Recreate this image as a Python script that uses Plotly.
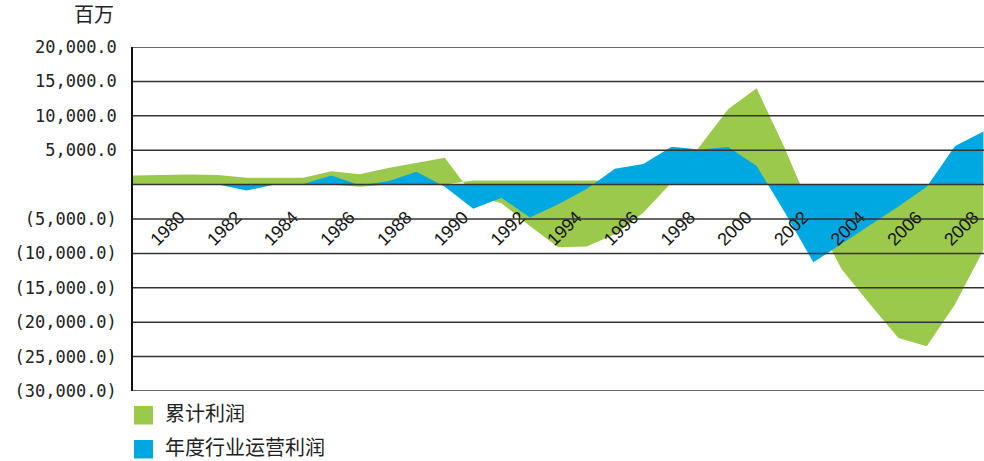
import plotly.graph_objects as go

years = list(range(1978, 2009))
# 年度行业运营利润 (blue)
annual = [0, 0, 0, 0, -850, 0, 100, 1340, -100, 500, 1860, -300, -3500, -1900,
          -4800, -2850, -630, 2300, 3000, 5500, 5100, 5450, 2700, -4100, -11300,
          -8600, -5900, -3200, -300, 5600, 7700]
# 累计利润 (green) outer edge
cumulative = [1340, 1450, 1480, 1400, 1000, 1000, 1000, 1950, 1500, 2400, 3100, 3900,
              -1600, -2700, -6000, -9100, -9000, -7200, -4100, 300, 5600, 11000, 14000,
              5200, -4500, -12300, -17400, -22300, -23500, -17400, -9500]
# baseline of the green band as drawn
green_base = [0, 0, 0, 0, 0, 0, 0, 0, -300, 0, 0, 0, 600, 600, 600, 600, 600, 600, 600,
              0, 0, 0, 0, 0, 0, 0, 0, 0, 0, 0, 0]

ytick_vals = [20000, 15000, 10000, 5000, 0, -5000, -10000, -15000, -20000, -25000, -30000]
ytick_text = ["20,000.0", "15,000.0", "10,000.0", "5,000.0", "", "(5,000.0)", "(10,000.0)",
              "(15,000.0)", "(20,000.0)", "(25,000.0)", "(30,000.0)"]
xtick_vals = list(range(1980, 2009, 2))
legend_names = ["累计利润", "年度行业运营利润"]

GREEN = "#9BC94B"
BLUE = "#00A8E1"
legend_colors = [GREEN, BLUE]

W_PLOT = 984 - 133
H_PAPER = 461 - 47
DOM0 = 70 / H_PAPER
ZERO_POS = DOM0 + 0.6 * (1 - DOM0)


def px_x(p):
    return (p - 133) / W_PLOT


def px_y(p):
    return (461 - p) / H_PAPER


fig = go.Figure()
fig.add_trace(go.Scatter(x=years, y=green_base, mode="lines", line=dict(width=0, color=GREEN),
                         showlegend=False, hoverinfo="skip"))
fig.add_trace(go.Scatter(x=years, y=cumulative, mode="lines", fill="tonexty", fillcolor=GREEN,
                         line=dict(width=0, color=GREEN), name=legend_names[0]))
fig.add_trace(go.Scatter(x=years, y=annual, mode="lines", fill="tozeroy", fillcolor=BLUE,
                         line=dict(width=0, color=BLUE), name=legend_names[1]))

shapes = []
for v in ytick_vals:
    shapes.append(dict(type="line", xref="paper", x0=0, x1=1, yref="y", y0=v, y1=v,
                       line=dict(color="#333333", width=1.5), layer="above"))

annotations = [dict(text="百万", xref="paper", yref="paper", x=-0.0205, y=1.0, yshift=17,
                    xanchor="right", yanchor="bottom", showarrow=False,
                    font=dict(family="Noto Sans CJK SC", size=20, color="#222222"))]

# legend (squares + labels) below the plot
for i, (name, col) in enumerate(zip(legend_names, legend_colors)):
    top = 406 + 34 * i
    shapes.append(dict(type="rect", xref="paper", yref="paper",
                       x0=px_x(134), x1=px_x(153), y0=px_y(top + 18.5), y1=px_y(top),
                       fillcolor=col, line=dict(width=0)))
    annotations.append(dict(text=name, xref="paper", yref="paper", x=px_x(164),
                            y=px_y(top + 6), xanchor="left", yanchor="middle", showarrow=False,
                            borderpad=0,
                            font=dict(family="Noto Sans CJK SC", size=20, color="#222222")))

fig.update_layout(
    width=984, height=461,
    margin=dict(l=133, r=0, t=47, b=0, autoexpand=False),
    plot_bgcolor="white", paper_bgcolor="white",
    shapes=shapes,
    annotations=annotations,
    showlegend=False,
    xaxis=dict(range=[1978, 2008.02], tickvals=xtick_vals, ticktext=[str(y) for y in xtick_vals],
               tickangle=-45, showgrid=False, zeroline=False, showline=False,
               anchor="free", position=ZERO_POS, ticks="outside", ticklen=14,
               tickcolor="rgba(0,0,0,0)", ticklabelshift=-10,
               tickfont=dict(family="Liberation Sans", size=18, color="#111111")),
    yaxis=dict(range=[-30000, 20000], domain=[DOM0, 1], tickvals=ytick_vals, ticktext=ytick_text,
               showgrid=False, zeroline=False, showline=True, linecolor="#111111", linewidth=1.5,
               ticks="outside", ticklen=11, tickcolor="rgba(0,0,0,0)",
               tickfont=dict(family="DejaVu Sans Mono", size=17, color="#222222")),
)

fig.write_html("out.html")
